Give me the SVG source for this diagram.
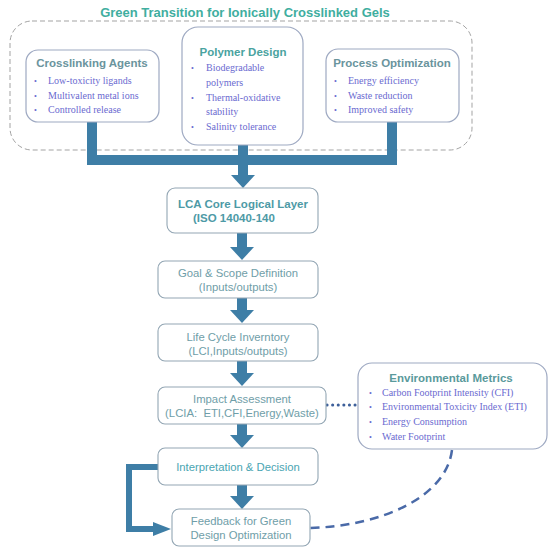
<svg xmlns="http://www.w3.org/2000/svg" width="550" height="552" viewBox="0 0 550 552">
<style>
.bg{fill:#ffffff}
.outer{fill:none;stroke:#a3a3a3;stroke-width:1;stroke-dasharray:5 3}
.tbox{fill:#ffffff;stroke:#9ea9c2;stroke-width:1.2}
.cbox{fill:#ffffff;stroke:#93a6b4;stroke-width:1.1}
.title{font-family:"Liberation Sans",Arial,sans-serif;font-weight:bold;font-size:13px;fill:#3fae9f}
.head{font-family:"Liberation Sans",Arial,sans-serif;font-weight:bold;font-size:11.5px;fill:#6a949d}
.headg{font-family:"Liberation Sans",Arial,sans-serif;font-weight:bold;font-size:11.5px;fill:#4aa39f}
.bul{font-family:"Liberation Serif","Times New Roman",serif;font-size:10px;fill:#6a6ad0}
.dot{font-family:"Liberation Serif","Times New Roman",serif;font-size:8px;fill:#6a6ad0}
.core{font-family:"Liberation Sans",Arial,sans-serif;font-weight:bold;font-size:11.5px;fill:#4d9aa6}
.step{font-family:"Liberation Sans",Arial,sans-serif;font-size:11.3px;fill:#6f9ea8;white-space:pre}
.stept{font-family:"Liberation Sans",Arial,sans-serif;font-size:11.3px;fill:#4aa5b2}
.bar{fill:none;stroke:#3e7ea6;stroke-width:10}
.loop{fill:none;stroke:#3e7ea6;stroke-width:6}
.dots{fill:none;stroke:#3d5f9a;stroke-width:3;stroke-linecap:round;stroke-dasharray:0.1 5.5}
.dash{fill:none;stroke:#4a6aa8;stroke-width:2.5;stroke-dasharray:9 6}
</style>
<defs>
<marker id="ah" markerUnits="userSpaceOnUse" markerWidth="13" markerHeight="24" viewBox="0 0 13 24" refX="0" refY="12" orient="auto">
<path d="M0,0 L13,12 L0,24 Z" fill="#3e7ea6"/>
</marker>
<marker id="ahs" markerUnits="userSpaceOnUse" markerWidth="18" markerHeight="14" viewBox="0 0 18 14" refX="0" refY="7" orient="auto">
<path d="M0,0 L18,7 L0,14 Z" fill="#3e7ea6"/>
</marker>
</defs>
<rect class="bg" x="0" y="0" width="550" height="552"/>
<text class="title" x="245" y="17" text-anchor="middle">Green Transition for Ionically Crosslinked Gels</text>
<rect class="outer" x="10" y="21" width="462" height="129" rx="22"/>

<g id="connectors">
<path class="bar" d="M92,122 V160 H392 V122"/>
<path class="bar" d="M243,145 V175" marker-end="url(#ah)"/>
<path class="bar" d="M242,233 V247" marker-end="url(#ah)"/>
<path class="bar" d="M242,298 V310" marker-end="url(#ah)"/>
<path class="bar" d="M242,361 V373" marker-end="url(#ah)"/>
<path class="bar" d="M242,424 V435" marker-end="url(#ah)"/>
<path class="bar" d="M242,485 V496" marker-end="url(#ah)"/>
<path class="loop" d="M158,467 H129 V529 H153" marker-end="url(#ahs)"/>
<path class="dots" d="M327,405 H357"/>
<path class="dash" d="M452,450 C446,498 380,526 310,528"/>
</g>

<g id="crosslinking-agents">
<rect class="tbox" x="26" y="50" width="133" height="72" rx="12"/>
<text class="head" x="92" y="67" text-anchor="middle">Crosslinking Agents</text>
<text class="dot" x="34" y="84">•</text><text class="bul" x="48" y="84">Low-toxicity ligands</text>
<text class="dot" x="34" y="99">•</text><text class="bul" x="48" y="99">Multivalent metal ions</text>
<text class="dot" x="34" y="113">•</text><text class="bul" x="48" y="113">Controlled release</text>
</g>

<g id="polymer-design">
<rect class="tbox" x="182" y="27" width="121" height="118" rx="16"/>
<text class="headg" x="243" y="56" text-anchor="middle">Polymer Design</text>
<text class="dot" x="191" y="71">•</text><text class="bul" x="206" y="71">Biodegradable</text>
<text class="bul" x="206" y="86">polymers</text>
<text class="dot" x="191" y="101">•</text><text class="bul" x="206" y="101">Thermal-oxidative</text>
<text class="bul" x="206" y="115">stability</text>
<text class="dot" x="191" y="130">•</text><text class="bul" x="206" y="130">Salinity tolerance</text>
</g>

<g id="process-optimization">
<rect class="tbox" x="326" y="49" width="133" height="73" rx="12"/>
<text class="head" x="392" y="67" text-anchor="middle">Process Optimization</text>
<text class="dot" x="334" y="84">•</text><text class="bul" x="348" y="84">Energy efficiency</text>
<text class="dot" x="334" y="99">•</text><text class="bul" x="348" y="99">Waste reduction</text>
<text class="dot" x="334" y="113">•</text><text class="bul" x="348" y="113">Improved safety</text>
</g>

<g id="lca-core">
<rect class="cbox" x="167" y="188" width="151" height="45" rx="8"/>
<text class="core" x="243" y="208" text-anchor="middle">LCA Core Logical Layer</text>
<text class="core" x="193" y="222">(ISO 14040-140</text>
</g>

<g id="goal-scope">
<rect class="cbox" x="158" y="261" width="160" height="37" rx="7"/>
<text class="step" x="238" y="277" text-anchor="middle">Goal &amp; Scope Definition</text>
<text class="step" x="238" y="291" text-anchor="middle">(Inputs/outputs)</text>
</g>

<g id="lci">
<rect class="cbox" x="158" y="324" width="160" height="37" rx="7"/>
<text class="step" x="238" y="341" text-anchor="middle">Life Cycle Inverntory</text>
<text class="step" x="238" y="355" text-anchor="middle">(LCI,Inputs/outputs)</text>
</g>

<g id="impact">
<rect class="cbox" x="158" y="387" width="168" height="37" rx="7"/>
<text class="step" x="242" y="403" text-anchor="middle">Impact Assessment</text>
<text class="step" x="242" y="417" text-anchor="middle">(LCIA:  ETI,CFI,Energy,Waste)</text>
</g>

<g id="interpretation">
<rect class="cbox" x="158" y="448" width="160" height="37" rx="7"/>
<text class="stept" x="238" y="471" text-anchor="middle">Interpretation &amp; Decision</text>
</g>

<g id="feedback">
<rect class="cbox" x="172" y="509" width="138" height="37" rx="7"/>
<text class="step" x="241" y="525" text-anchor="middle">Feedback for Green</text>
<text class="step" x="241" y="539" text-anchor="middle">Design Optimization</text>
</g>

<g id="environmental-metrics">
<rect class="tbox" x="358" y="363" width="189" height="86" rx="14"/>
<text class="head" x="451" y="382" text-anchor="middle" style="fill:#5a9a9c">Environmental Metrics</text>
<text class="dot" x="369" y="396">•</text><text class="bul" x="382" y="396">Carbon Footprint Intensity (CFI)</text>
<text class="dot" x="369" y="410">•</text><text class="bul" x="382" y="410">Environmental Toxicity Index (ETI)</text>
<text class="dot" x="369" y="425">•</text><text class="bul" x="382" y="425">Energy Consumption</text>
<text class="dot" x="369" y="440">•</text><text class="bul" x="382" y="440">Water Footprint</text>
</g>
</svg>
